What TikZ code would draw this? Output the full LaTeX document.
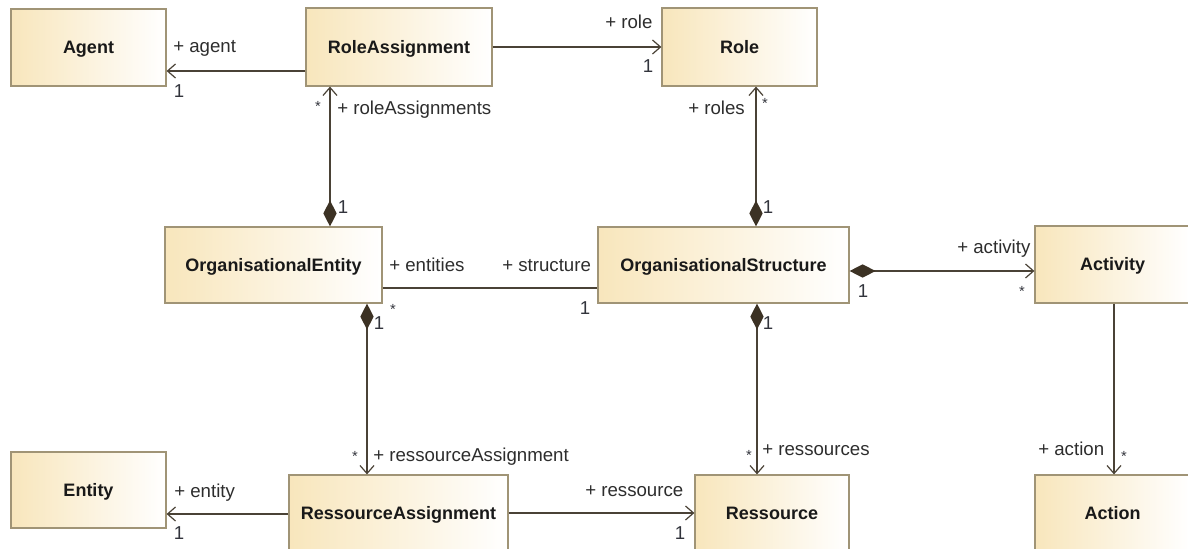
\documentclass[tikz,border=0pt]{standalone}
\usepackage{fontspec}
\setmainfont{Liberation Sans}
\usetikzlibrary{arrows.meta,calc}
\definecolor{boxtan}{RGB}{248,230,188}
\definecolor{boxborder}{RGB}{160,148,118}
\definecolor{linecol}{RGB}{74,66,54}
\definecolor{diacol}{RGB}{60,50,36}
\definecolor{lblcol}{RGB}{45,45,45}
\definecolor{multcol}{RGB}{50,52,60}
\tikzset{
  cls/.style 2 args={draw=boxborder, line width=0.9pt, left color=boxtan, right color=white,
    minimum width={#1*0.75pt}, minimum height={#2*0.75pt}, inner sep=0pt,
    text height=9.7pt, text depth=0pt,
    font=\fontsize{13.5}{15}\selectfont\bfseries, text=black!90},
  lbl/.style={font=\fontsize{14}{16}\selectfont, text=lblcol, inner sep=0pt, anchor=base west},
  mult/.style={font=\fontsize{14}{16}\selectfont, text=multcol, inner sep=0pt, anchor=base},
  star/.style={font=\fontsize{11}{13}\selectfont, text=multcol, inner sep=0pt, anchor=base},
  assoc/.style={draw=linecol, line width=1pt},
  nav/.style={assoc, -{Straight Barb[length=6pt,width=10.5pt,line width=0.9pt]}},
  compnav/.style={assoc, {Diamond[length=19.5pt,width=10pt,fill=diacol,color=diacol]}-{Straight Barb[length=6pt,width=10.5pt,line width=0.9pt]}},
}
\begin{document}
\begin{tikzpicture}[x=0.75pt,y=-0.75pt]
\useasboundingbox (0,0) rectangle (1188,549);
\clip (0,0) rectangle (1188,549);
% classes
\node[cls={155}{77}] (agent) at (88.5,47.5) {Agent};
\node[cls={186}{78}] (ra) at (399,47) {RoleAssignment};
\node[cls={155}{78}] (role) at (739.5,47) {Role};
\node[cls={217}{76}] (oe) at (273.5,265) {OrganisationalEntity};
\node[cls={251}{76}] (os) at (723.5,265) {OrganisationalStructure};
\node[cls={155}{77}] (act) at (1112.5,264.5) {Activity};
\node[cls={155}{76}] (ent) at (88.5,490) {Entity};
\node[cls={219}{76}] (rsa) at (398.5,513) {RessourceAssignment};
\node[cls={154}{76}] (res) at (772,513) {Ressource};
\node[cls={155}{76}] (action) at (1112.5,513) {Action};
% connectors
\draw[nav] (ra.west |- 0,71) -- (agent.east |- 0,71);
\draw[nav] (ra.east |- 0,47) -- (role.west |- 0,47);
\draw[compnav] (oe.north -| 330,0) -- (ra.south -| 330,0);
\draw[compnav] (os.north -| 756,0) -- (role.south -| 756,0);
\draw[assoc] (oe.east |- 0,288) -- (os.west |- 0,288);
\draw[compnav] (os.east |- 0,271) -- (act.west |- 0,271);
\draw[compnav] (oe.south -| 367,0) -- (rsa.north -| 367,0);
\draw[compnav] (os.south -| 757,0) -- (res.north -| 757,0);
\draw[nav] (act.south -| 1114,0) -- (action.north -| 1114,0);
\draw[nav] (rsa.west |- 0,514) -- (ent.east |- 0,514);
\draw[nav] (rsa.east |- 0,513) -- (res.west |- 0,513);
% labels
\node[lbl] (l1) at (173,53) {+ agent};
\node[mult] (m1) at (179,98) {1};
\node[lbl] (l2) at (605,29) {+ role};
\node[mult] (m2) at (648,73) {1};
\node[lbl] (l3) at (337,115) {+ roleAssignments};
\node[star] (s3) at (318,112) {*};
\node[mult] (m3) at (343,213) {1};
\node[lbl] (l4) at (688,115) {+ roles};
\node[star] (s4) at (765,109) {*};
\node[mult] (m4) at (768,213) {1};
\node[lbl] (l5) at (389,271) {+ entities};
\node[star] (s5) at (393,314) {*};
\node[lbl] (l6) at (502,271) {+ structure};
\node[mult] (m6) at (585,314) {1};
\node[lbl] (l7) at (957,253) {+ activity};
\node[mult] (m7) at (863,297) {1};
\node[star] (s7) at (1022,296) {*};
\node[mult] (m8) at (379,329) {1};
\node[star] (s8) at (355,461) {*};
\node[lbl] (l8) at (373,461) {+ ressourceAssignment};
\node[mult] (m9) at (768,329) {1};
\node[star] (s9) at (749,460) {*};
\node[lbl] (l9) at (762,455) {+ ressources};
\node[lbl] (l10) at (1038,455) {+ action};
\node[star] (s10) at (1124,461) {*};
\node[lbl] (l11) at (174,497) {+ entity};
\node[mult] (m11) at (179,539) {1};
\node[lbl] (l12) at (585,496) {+ ressource};
\node[mult] (m12) at (680,539) {1};
\end{tikzpicture}
\end{document}
